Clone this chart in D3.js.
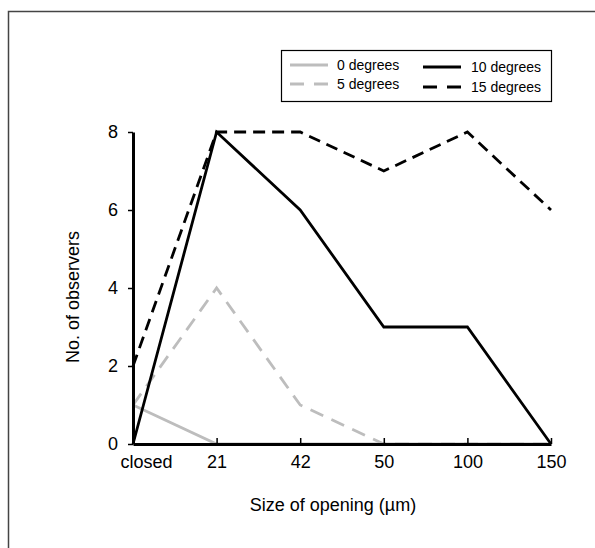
<!DOCTYPE html>
<html>
<head>
<meta charset="utf-8">
<script src="https://cdn.jsdelivr.net/npm/d3@7"></script>
<style>
  body { margin: 0; background: #fff; }
  text { font-family: "Liberation Sans", Arial, sans-serif; fill: #000; }
</style>
</head>
<body>
<script>
'use strict';

const openings = ["closed", "21", "42", "50", "100", "150"];
const deg0 = [1, 0, 0, 0, 0, 0];
const deg5 = [1, 4, 1, 0, 0, 0];
const deg10 = [0, 8, 6, 3, 3, 0];
const deg15 = [2, 8, 8, 7, 8, 6];
const yTicks = [0, 2, 4, 6, 8];

(function() {
  let svg = d3.select('body')
    .append('svg')
    .attr('width', 595)
    .attr('height', 548);

  // outer frame (cut off at right and bottom)
  svg.append('rect')
    .attr('x', 8.5).attr('y', 11.5)
    .attr('width', 620).attr('height', 600)
    .attr('fill', 'none')
    .attr('stroke', '#444')
    .attr('stroke-width', 1.5);

  let xScale = d3.scalePoint()
    .domain(openings)
    .range([133, 551]);

  let yScale = d3.scaleLinear()
    .domain([0, 8])
    .range([444, 132]);

  let series = [
    { name: "0 degrees", values: deg0, color: "#bdbdbd", dash: null },
    { name: "5 degrees", values: deg5, color: "#bdbdbd", dash: "14,9" },
    { name: "10 degrees", values: deg10, color: "#000", dash: null },
    { name: "15 degrees", values: deg15, color: "#000", dash: "12,7" }
  ];

  let line = d3.line()
    .x((d, i) => xScale(openings[i]))
    .y(d => yScale(d));

  function drawSeries(s) {
    svg.append('path')
      .attr('d', line(s.values))
      .attr('fill', 'none')
      .attr('stroke', s.color)
      .attr('stroke-width', 2.8)
      .attr('stroke-dasharray', s.dash);
  }

  drawSeries(series[0]);
  drawSeries(series[1]);

  // x axis
  let xAxis = d3.axisBottom(xScale).tickSize(-6).tickSizeOuter(0).tickPadding(14);
  let gx = svg.append('g')
    .attr('transform', 'translate(0, 444)')
    .call(xAxis);
  gx.select('.domain').attr('stroke-width', 3).attr('stroke', '#000');
  gx.selectAll('.tick line').attr('stroke-width', 1.5);
  gx.selectAll('.tick').filter(d => d === "closed").select('line').remove();
  gx.selectAll('.tick text')
    .style('font-size', '18px')
    .attr('font-family', null)
    .attr('dy', '0.71em')
    .attr('y', 11)
    .attr('dx', d => d === "closed" ? 13 : 0);

  // y axis
  let yAxis = d3.axisLeft(yScale).tickValues(yTicks).tickSize(5).tickSizeOuter(0).tickPadding(10);
  let gy = svg.append('g')
    .attr('transform', 'translate(133, 0)')
    .call(yAxis);
  gy.select('.domain').attr('stroke-width', 3).attr('stroke', '#000');
  gy.selectAll('.tick line').attr('stroke-width', 1.5);
  gy.selectAll('.tick text')
    .style('font-size', '18px')
    .attr('font-family', null);

  drawSeries(series[2]);
  drawSeries(series[3]);

  svg.append('text')
    .attr('x', 333)
    .attr('y', 511)
    .attr('text-anchor', 'middle')
    .style('font-size', '18px')
    .text('Size of opening (µm)');

  svg.append('text')
    .attr('transform', 'translate(79, 297)rotate(-90)')
    .attr('text-anchor', 'middle')
    .style('font-size', '18px')
    .text('No. of observers');

  // legend
  svg.append('rect')
    .attr('x', 281.5).attr('y', 50.5)
    .attr('width', 270).attr('height', 51)
    .attr('fill', '#fff')
    .attr('stroke', '#000')
    .attr('stroke-width', 1.2);

  let legendPos = [
    { x: 290, y: 65 },
    { x: 290, y: 84 },
    { x: 423, y: 67 },
    { x: 423, y: 87 }
  ];

  series.forEach((s, i) => {
    let p = legendPos[i];
    svg.append('line')
      .attr('x1', p.x).attr('x2', p.x + 38)
      .attr('y1', p.y).attr('y2', p.y)
      .attr('stroke', s.color)
      .attr('stroke-width', 2.8)
      .attr('stroke-dasharray', s.dash ? "14,10" : null);
    svg.append('text')
      .attr('x', p.x + (i < 2 ? 47 : 48))
      .attr('y', p.y)
      .attr('dy', '0.35em')
      .style('font-size', '14px')
      .text(s.name);
  });
})();
</script>
</body>
</html>
